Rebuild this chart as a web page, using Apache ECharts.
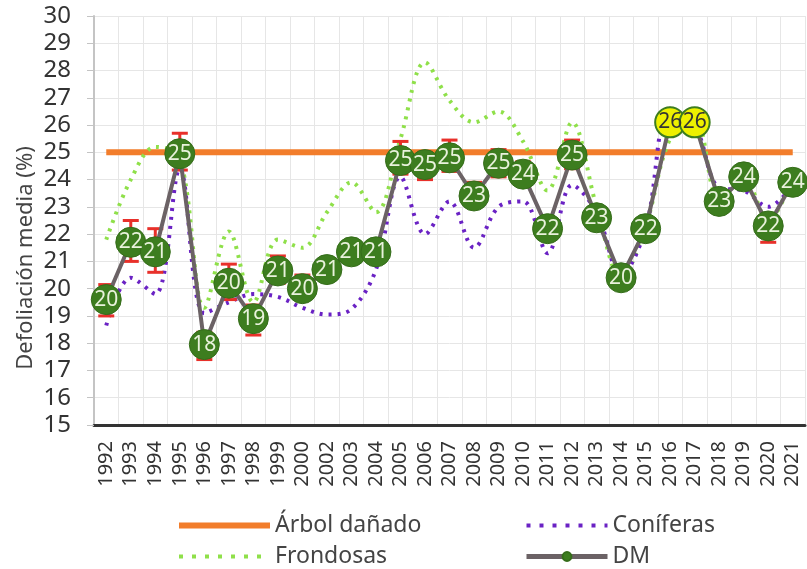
<!DOCTYPE html>
<html>
<head>
<meta charset="utf-8">
<title>Defoliación media</title>
<script src="https://cdn.jsdelivr.net/npm/echarts@6/dist/echarts.min.js"></script>
<style>
  html, body { margin: 0; padding: 0; background: #fff; }
  #chart { width: 807px; height: 569px; }
</style>
</head>
<body>
<div id="chart"></div>
<script>
// años (no hay 2001)
const years = ['1992', '1993', '1994', '1995', '1996', '1997', '1998', '1999', '2000',
  '2002', '2003', '2004', '2005', '2006', '2007', '2008', '2009', '2010', '2011',
  '2012', '2013', '2014', '2015', '2016', '2017', '2018', '2019', '2020', '2021'];

// defoliación media (DM)
const dm = [19.6, 21.7, 21.35, 24.95, 17.95, 20.2, 18.9, 20.65, 20.0,
  20.7, 21.35, 21.35, 24.7, 24.55, 24.8, 23.4, 24.6, 24.2, 22.2,
  24.9, 22.6, 20.4, 22.2, 26.1, 26.1, 23.2, 24.1, 22.3, 23.9];

// intervalo de error de DM
const dmLow = [19.0, 21.0, 20.6, 24.35, 17.4, 19.6, 18.3, 20.2, 19.6,
  20.3, 21.0, 21.0, 24.2, 24.0, 24.3, 23.0, 24.1, 23.8, 21.8,
  24.4, 22.2, 20.0, 21.8, 25.7, 25.7, 22.8, 23.7, 21.7, 23.5];
const dmHigh = [20.15, 22.5, 22.2, 25.7, 18.4, 20.9, 19.4, 21.2, 20.5,
  21.1, 21.7, 21.7, 25.4, 25.0, 25.45, 23.9, 25.1, 24.65, 22.6,
  25.45, 23.0, 20.8, 22.6, 26.5, 26.5, 23.6, 24.5, 22.7, 24.3];

const coniferas = [18.65, 20.4, 19.8, 24.4, 19.1, 19.5, 19.8, 19.7, 19.3,
  19.05, 19.25, 20.7, 24.1, 22.0, 23.2, 21.5, 23.0, 23.2, 21.3,
  23.8, 22.8, 20.5, 22.2, 26.6, 26.0, 23.7, 23.6, 23.0, 23.8];

const frondosas = [21.8, 24.0, 25.2, 24.8, 19.3, 22.1, 19.5, 21.8, 21.5,
  22.8, 23.9, 22.8, 25.5, 28.3, 26.9, 26.1, 26.5, 25.4, 23.6,
  26.1, 23.0, 20.4, 22.3, 25.5, 26.2, 23.3, 24.0, 22.5, 24.1];

// umbral de árbol dañado
const arbolDanado = [25, 25, 25, 25, 25, 25, 25, 25, 25, 25, 25, 25, 25, 25, 25,
  25, 25, 25, 25, 25, 25, 25, 25, 25, 25, 25, 25, 25, 25];

// años resaltados en amarillo
const destacados = ['2016', '2017'];

// fuente estrecha: se pide el ancho "condensed" en el campo de peso
const FONT = "'Noto Sans Condensed', 'Noto Sans', 'Open Sans', sans-serif";
const STRETCH = 'condensed';
const GREEN = '#3d7d1f';
const DOTS = [3, 6];

const chart = echarts.init(document.getElementById('chart'));

const dmData = dm.map((v, i) => {
  if (destacados.indexOf(years[i]) >= 0) {
    return {
      value: v,
      itemStyle: { color: '#eef000', borderColor: GREEN, borderWidth: 2 },
      label: { color: '#333' }
    };
  }
  return v;
});

const legendText = { fontFamily: FONT, fontWeight: STRETCH, fontSize: 23, lineHeight: 22, color: '#444' };

const option = {
  backgroundColor: '#fff',
  animation: false,
  grid: { left: 94, right: 2, top: 16, bottom: 144 },
  legend: [
    {
      data: [
        { name: 'Árbol dañado', itemStyle: { opacity: 0 }, lineStyle: { width: 6 } },
        { name: 'Frondosas', itemStyle: { opacity: 0 }, lineStyle: { width: 4, type: [4, 9] } }
      ],
      orient: 'vertical',
      left: 176,
      top: 514,
      height: 60,
      padding: 0,
      itemWidth: 91,
      itemHeight: 8,
      itemGap: 8,
      textStyle: legendText
    },
    {
      data: [
        { name: 'Coníferas', itemStyle: { opacity: 0 }, lineStyle: { width: 4, type: [4, 9] } },
        { name: 'DM', lineStyle: { width: 5 } }
      ],
      orient: 'vertical',
      left: 524,
      top: 514,
      height: 60,
      padding: 0,
      itemWidth: 81,
      itemHeight: 11,
      itemGap: 8,
      textStyle: legendText
    }
  ],
  graphic: [{
    type: 'text',
    x: 26,
    y: 258,
    rotation: Math.PI / 2,
    style: {
      text: 'Defoliación media (%)',
      fontFamily: FONT,
      fontWeight: STRETCH,
      fontSize: 22,
      fill: '#444',
      textAlign: 'center',
      textVerticalAlign: 'middle'
    }
  }],
  xAxis: {
    type: 'category',
    data: years,
    boundaryGap: true,
    axisLine: { lineStyle: { color: '#333', width: 3 } },
    axisTick: { show: false },
    axisLabel: {
      rotate: 90,
      margin: 16,
      interval: 0,
      fontFamily: FONT,
      fontWeight: STRETCH,
      fontSize: 20,
      color: '#333'
    },
    splitLine: { show: true, lineStyle: { color: '#e6e6e6', width: 1 } }
  },
  yAxis: {
    type: 'value',
    min: 15,
    max: 30,
    interval: 1,
    axisLine: { show: true, lineStyle: { color: '#c4c4c4', width: 2 } },
    axisTick: { show: true, length: 7, lineStyle: { color: '#c4c4c4' } },
    axisLabel: {
      margin: 23,
      fontFamily: FONT,
      fontWeight: STRETCH,
      fontSize: 24,
      color: '#333'
    },
    splitLine: { lineStyle: { color: '#e6e6e6', width: 1 } }
  },
  series: [
    {
      name: 'Árbol dañado',
      type: 'line',
      data: arbolDanado,
      symbol: 'none',
      z: 1,
      lineStyle: { color: '#f27d2b', width: 6 },
      itemStyle: { color: '#f27d2b' }
    },
    {
      name: 'Frondosas',
      type: 'line',
      data: frondosas,
      symbol: 'none',
      smooth: 0.35,
      z: 2,
      lineStyle: { color: '#8fe04a', width: 4, type: DOTS },
      itemStyle: { color: '#8fe04a' }
    },
    {
      name: 'Coníferas',
      type: 'line',
      data: coniferas,
      symbol: 'none',
      smooth: 0.35,
      z: 2,
      lineStyle: { color: '#6a22c4', width: 4, type: DOTS },
      itemStyle: { color: '#6a22c4' }
    },
    {
      // barras de error
      type: 'custom',
      z: 3,
      silent: true,
      data: dm.map((v, i) => [i, dmLow[i], dmHigh[i]]),
      renderItem: function (params, api) {
        const lo = api.coord([api.value(0), api.value(1)]);
        const hi = api.coord([api.value(0), api.value(2)]);
        const hw = 8;
        const style = { stroke: '#e8302a', lineWidth: 3 };
        return {
          type: 'group',
          children: [
            { type: 'line', shape: { x1: lo[0], y1: lo[1], x2: hi[0], y2: hi[1] }, style: style },
            { type: 'line', shape: { x1: lo[0] - hw, y1: lo[1], x2: lo[0] + hw, y2: lo[1] }, style: style },
            { type: 'line', shape: { x1: hi[0] - hw, y1: hi[1], x2: hi[0] + hw, y2: hi[1] }, style: style }
          ]
        };
      }
    },
    {
      name: 'DM',
      type: 'line',
      data: dmData,
      z: 4,
      symbol: 'circle',
      symbolSize: 30,
      lineStyle: { color: '#6b6265', width: 4 },
      itemStyle: { color: GREEN, borderColor: '#356d1a', borderWidth: 1 },
      label: {
        show: true,
        position: 'inside',
        fontFamily: FONT,
        fontWeight: STRETCH,
        fontSize: 21,
        color: '#e9f2dc',
        formatter: p => Math.round(p.value)
      }
    }
  ]
};

chart.setOption(option);
</script>
</body>
</html>
